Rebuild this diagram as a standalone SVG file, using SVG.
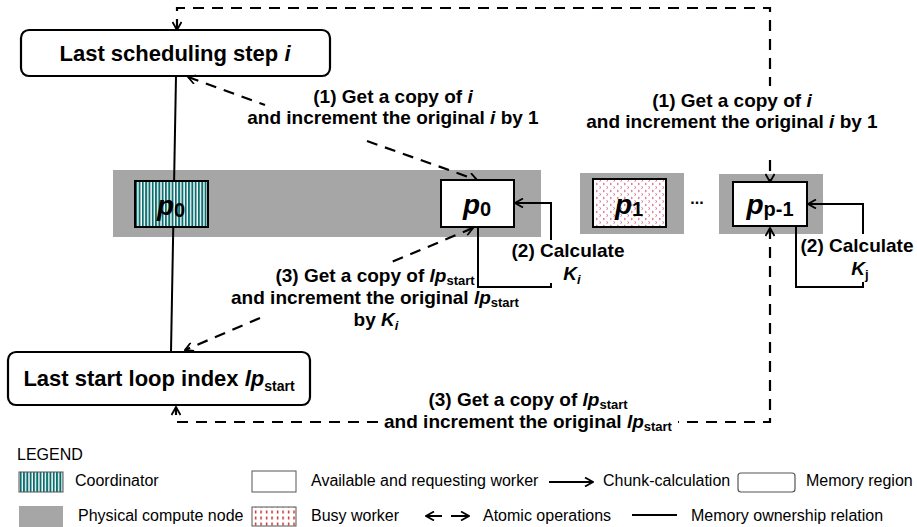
<svg xmlns="http://www.w3.org/2000/svg" width="917" height="527" viewBox="0 0 917 527">
<style>
text{font-family:"Liberation Sans",Arial,sans-serif;fill:#000}
.lbl{font-size:19px;font-weight:bold;text-anchor:middle}
.box{font-size:22px;font-weight:bold;text-anchor:middle}
.leg{font-size:16px}
.mem{fill:#fff;stroke:#000;stroke-width:2.2}
.gray{fill:#a6a6a6}
.wk{fill:#fff;stroke:#000;stroke-width:2}
.sol{fill:none;stroke:#000;stroke-width:2}
.dash{fill:none;stroke:#000;stroke-width:2.2;stroke-dasharray:11 8}
.pl{font-size:28px;font-weight:bold;font-style:italic;text-anchor:middle}
.sub{font-size:20px;font-style:normal}
.it{font-style:italic}
.ss{font-size:13px}
</style>
<defs>
<marker id="ah" markerUnits="userSpaceOnUse" viewBox="0 0 10 10" refX="9" refY="5" markerWidth="10" markerHeight="10" orient="auto-start-reverse">
<path d="M1,0.5 L9,5 L1,9.5" fill="none" stroke="#000" stroke-width="1.8" stroke-dasharray="none"/>
</marker>
<pattern id="coord" width="3.3" height="6" patternUnits="userSpaceOnUse">
<rect width="3.3" height="6" fill="#fff"/><rect width="1.9" height="6" fill="#0a6e6e"/>
</pattern>
<pattern id="busy" width="7" height="7" patternUnits="userSpaceOnUse">
<rect width="7" height="7" fill="#fff"/>
<path d="M1,1 L2.5,2 L1,3 M4.5,4.5 L6,5.5 L4.5,6.5" stroke="#d9708c" stroke-width="1" fill="none"/>
</pattern>
<pattern id="busyL" width="5.5" height="6" patternUnits="userSpaceOnUse">
<rect width="5.5" height="6" fill="#fff"/><rect x="2" y="0.5" width="1.2" height="3" fill="#c00000"/>
</pattern>
</defs>

<g id="node-mem-i"><rect class="mem" x="21" y="30" width="309" height="46" rx="8"/><text class="box" x="175" y="61">Last scheduling step <tspan class="it">i</tspan></text></g>
<g id="node-mem-lp"><rect class="mem" x="8" y="352" width="302" height="53" rx="8"/><text class="box" x="159" y="386">Last start loop index <tspan class="it">lp</tspan><tspan font-size="14" dy="5">start</tspan></text></g>

<g id="node-phys0"><rect class="gray" x="113" y="170" width="428" height="67"/></g>
<g id="node-phys1"><rect class="gray" x="580" y="173" width="104" height="61"/></g>
<g id="node-phys2"><rect class="gray" x="719" y="174" width="104" height="60"/></g>

<g id="connectors">
<path class="sol" d="M176,76 L171,352"/>
<path class="dash" d="M188,77 L265,105 M367,141 L477,180" marker-start="url(#ah)" marker-end="url(#ah)"/>
<path class="dash" d="M177,30 V8 H770 V86 M770,160 V182" marker-start="url(#ah)" marker-end="url(#ah)"/>
<path class="sol" d="M478,227 V287 H551 V283 M551,240 V203 H515" marker-end="url(#ah)"/>
<path class="sol" d="M796,226 V287 H863 V282 M863,234 V204 H808" marker-end="url(#ah)"/>
<path class="dash" d="M473,228 L387,264 M260,318 L185,350" marker-start="url(#ah)" marker-end="url(#ah)"/>
<path class="dash" d="M770,228 V422 H678 M378,422 H176 V407" marker-start="url(#ah)" marker-end="url(#ah)"/>
<text class="lbl" x="393" y="103">(1) Get a copy of <tspan class="it">i</tspan></text>
<text class="lbl" x="393" y="124">and increment the original <tspan class="it">i</tspan> by 1</text>
<text class="lbl" x="732" y="107">(1) Get a copy of <tspan class="it">i</tspan></text>
<text class="lbl" x="732" y="128">and increment the original <tspan class="it">i</tspan> by 1</text>
<text class="lbl" x="568" y="257">(2) Calculate</text>
<text class="lbl" x="572" y="280"><tspan class="it">K</tspan><tspan class="it ss" dy="4">i</tspan></text>
<text class="lbl" x="857" y="252">(2) Calculate</text>
<text class="lbl" x="860" y="275"><tspan class="it">K</tspan><tspan class="ss" dy="4">j</tspan></text>
<text class="lbl" x="375" y="282">(3) Get a copy of <tspan class="it">lp</tspan><tspan class="ss" dy="3">start</tspan></text>
<text class="lbl" x="375" y="304">and increment the original <tspan class="it">lp</tspan><tspan class="ss" dy="3">start</tspan></text>
<text class="lbl" x="376" y="326">by <tspan class="it">K</tspan><tspan class="it ss" dy="4">i</tspan></text>
<text class="lbl" x="528" y="406">(3) Get a copy of <tspan class="it">lp</tspan><tspan class="ss" dy="3">start</tspan></text>
<text class="lbl" x="528" y="428">and increment the original <tspan class="it">lp</tspan><tspan class="ss" dy="3">start</tspan></text>
</g>

<g id="node-coord"><rect x="135" y="181" width="73" height="46" fill="url(#coord)" stroke="#000" stroke-width="2"/><text class="pl" x="171" y="215">p<tspan class="sub" dy="2">0</tspan></text></g>
<g id="node-w0"><rect class="wk" x="441" y="180" width="73" height="47"/><text class="pl" x="477" y="214">p<tspan class="sub" font-weight="bold" dy="2">0</tspan></text></g>
<g id="node-w1"><rect x="593" y="179" width="73" height="48" fill="url(#busy)" stroke="#000" stroke-width="2"/><text class="pl" x="629" y="214">p<tspan class="sub" font-weight="bold" dy="2">1</tspan></text></g>
<g id="node-dots"><text x="697" y="204" font-size="16" font-weight="bold" text-anchor="middle">...</text></g>
<g id="node-wp"><rect class="wk" x="733" y="182" width="74" height="44"/><text class="pl" x="770" y="214">p<tspan class="sub" font-weight="bold" dy="2">p-1</tspan></text></g>

<g id="legend">
<text class="leg" x="17" y="460" font-size="17">LEGEND</text>
<rect x="19" y="472" width="44" height="20" fill="url(#coord)" stroke="#555" stroke-width="1"/>
<text class="leg" x="75" y="486">Coordinator</text>
<rect x="19" y="506" width="44" height="21" fill="#a6a6a6"/>
<text class="leg" x="78" y="521">Physical compute node</text>
<rect x="252" y="471" width="44" height="21" fill="#fff" stroke="#555" stroke-width="1"/>
<text class="leg" x="311" y="486">Available and requesting worker</text>
<rect x="252" y="507" width="44" height="19" fill="url(#busyL)" stroke="#555" stroke-width="1"/>
<text class="leg" x="311" y="521">Busy worker</text>
<path class="sol" d="M549,482 H593" marker-end="url(#ah)"/>
<text class="leg" x="603" y="486">Chunk-calculation</text>
<rect x="738" y="473" width="57" height="19" rx="3" fill="#fff" stroke="#555" stroke-width="1.2"/>
<text class="leg" x="806" y="486">Memory region</text>
<path class="sol" d="M442,516 H426" marker-end="url(#ah)"/>
<path class="sol" d="M451,516 H469" marker-end="url(#ah)"/>
<text class="leg" x="483" y="521">Atomic operations</text>
<path class="sol" d="M632,515 H677"/>
<text class="leg" x="691" y="521">Memory ownership relation</text>
</g>
</svg>
